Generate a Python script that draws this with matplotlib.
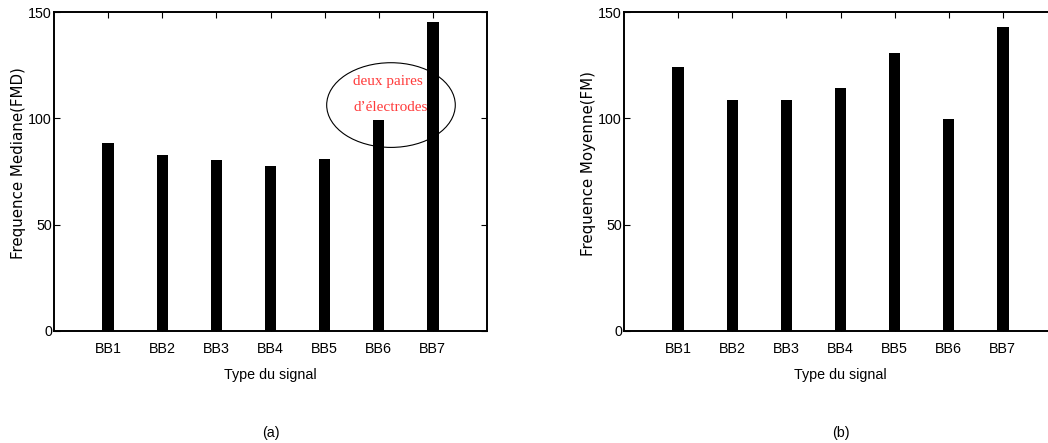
import matplotlib
matplotlib.use("Agg")
import matplotlib.pyplot as plt
from matplotlib.patches import Ellipse
from matplotlib import font_manager

# Signal types and measured frequencies
signals = ["BB1", "BB2", "BB3", "BB4", "BB5", "BB6", "BB7"]
median_freq = [88.3, 82.6, 80.4, 77.6, 81.0, 99.1, 145.4]
mean_freq = [124.4, 108.5, 108.5, 114.2, 131.0, 99.9, 143.1]
y_ticks = [0, 50, 100, 150]

available = {f.name for f in font_manager.fontManager.ttflist}
if "Liberation Sans Narrow" in available:
    tick_font, tick_size = "Liberation Sans Narrow", 11.5
else:
    tick_font, tick_size = "Liberation Sans", 10.3

W, H = 1048, 443
fig = plt.figure(figsize=(W / 100, H / 100), dpi=100)
fig.patch.set_facecolor("white")


def make_panel(left_px, values, ylabel, caption):
    ax = fig.add_axes([left_px / W, (H - 330.7) / H, 433 / W, 318.4 / H])
    x = list(range(1, len(signals) + 1))
    ax.bar(x, values, width=0.21, color="black", zorder=3)
    ax.set_xlim(0, 8)
    ax.set_ylim(0, 150)
    ax.set_xticks(x)
    ax.set_xticklabels(signals, fontfamily=tick_font, fontsize=tick_size)
    ax.set_yticks(y_ticks)
    ax.set_yticklabels([str(v) for v in y_ticks], fontfamily=tick_font, fontsize=tick_size)
    ax.tick_params(axis="both", direction="in", length=4, width=0.8,
                   top=True, right=True)
    ax.tick_params(axis="x", pad=8)
    ax.tick_params(axis="y", pad=1.5)
    for s in ax.spines.values():
        s.set_linewidth(1.4)
    ax.set_xlabel("Type du signal", fontfamily=tick_font, fontsize=tick_size, labelpad=9)
    ax.set_ylabel(ylabel, fontfamily="DejaVu Sans", fontsize=10.8)
    ax.yaxis.set_label_coords(-0.064, 0.525)
    cx = (left_px + 433 / 2) / W
    fig.text(cx, (H - 433) / H, caption, ha="center", va="center",
             fontfamily=tick_font, fontsize=tick_size)
    return ax


ax_a = make_panel(54, median_freq, "Frequence Mediane(FMD)", "(a)")
ax_b = make_panel(624, mean_freq, "Frequence Moyenne(FM)", "(b)")

# Annotation highlighting the two-electrode-pair signals
ax_a.add_patch(Ellipse((6.226, 106.3), 2.376, 39.9, fill=False,
                       edgecolor="black", linewidth=0.8, zorder=2))
ax_a.text(5.53, 117.5, "deux paires", color="#ff3b3b", fontfamily="Liberation Serif",
          fontsize=11, ha="left", va="center", zorder=4)
ax_a.text(5.53, 105.0, "d\u2019électrodes", color="#ff3b3b", fontfamily="Liberation Serif",
          fontsize=11, ha="left", va="center", zorder=4)

fig.savefig("out.png", dpi=100, facecolor="white")
